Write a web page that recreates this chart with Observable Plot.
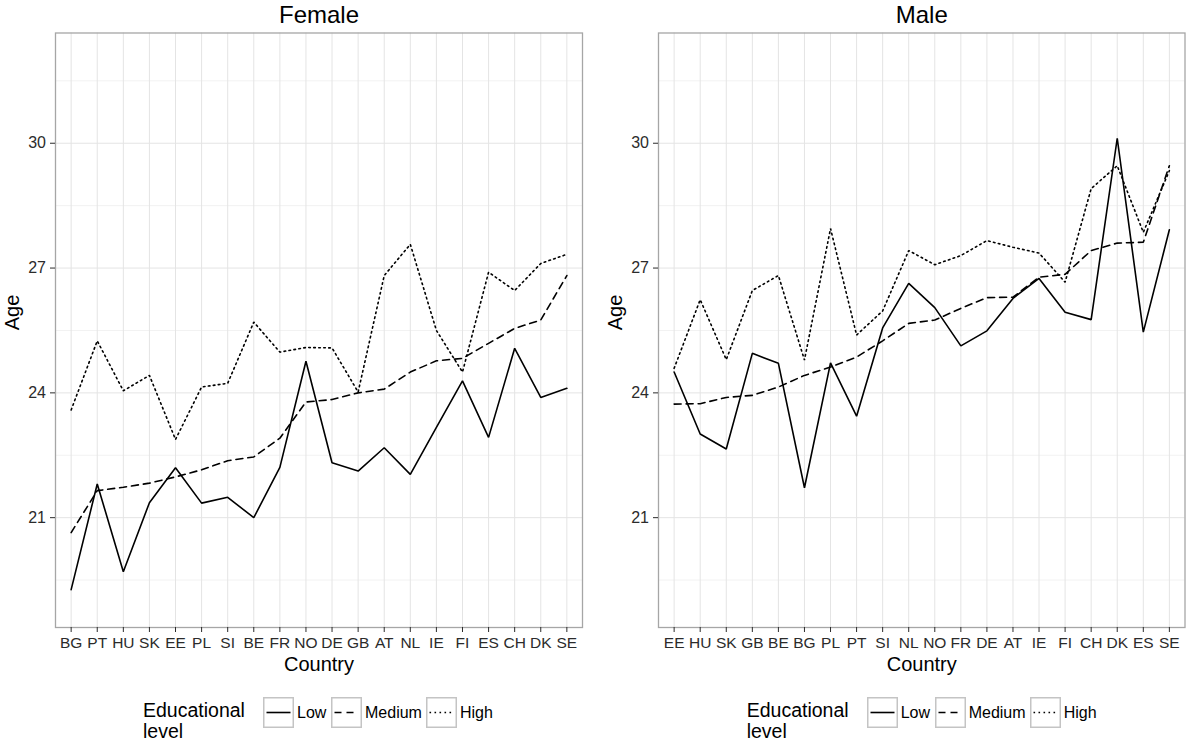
<!DOCTYPE html>
<html><head><meta charset="utf-8">
<script src="https://cdn.jsdelivr.net/npm/d3@7"></script>
<script src="https://cdn.jsdelivr.net/npm/@observablehq/plot@0.6"></script>
<style>
html,body{margin:0;padding:0;background:#fff;}
#chart{position:relative;width:1186px;height:742px;font-family:"Liberation Sans",Arial,Helvetica,sans-serif;overflow:hidden;background:#fff}
.panel{position:absolute;top:0}
.legend-title{position:absolute;font-size:19.5px;line-height:17px;height:17px;color:#000;white-space:nowrap}
.key{position:absolute}
.key-label{position:absolute;font-size:16px;line-height:16px;color:#000;white-space:nowrap}
</style></head><body><div id="chart"></div>
<script>
// ---- data ----
const levels = ["Low", "Medium", "High"];
const legendTitle = ["Educational", "level"];
const yTicks = [21, 24, 27, 30];
const yMinorTicks = [19.5, 22.5, 25.5, 28.5, 31.5];

const femaleCountries = ["BG","PT","HU","SK","EE","PL","SI","BE","FR","NO","DE","GB","AT","NL","IE","FI","ES","CH","DK","SE"];
const femaleLow    = [19.27,21.81,19.70,21.36,22.20,21.35,21.49,21.00,22.21,24.76,22.32,22.12,22.68,22.04,23.17,24.29,22.93,25.07,23.89,24.11];
const femaleMedium = [20.64,21.65,21.73,21.83,21.98,22.15,22.37,22.46,22.91,23.78,23.84,24.00,24.09,24.50,24.77,24.83,25.19,25.55,25.75,26.82];
const femaleHigh   = [23.59,25.25,24.05,24.42,22.88,24.14,24.23,25.70,24.98,25.09,25.08,24.02,26.82,27.57,25.50,24.50,26.90,26.46,27.11,27.33];

const maleCountries = ["EE","HU","SK","GB","BE","BG","PL","PT","SI","NL","NO","FR","DE","AT","IE","FI","CH","DK","ES","SE"];
const maleLow    = [24.50,23.01,22.65,24.95,24.71,21.72,24.72,23.44,25.56,26.63,26.05,25.13,25.49,26.27,26.75,25.94,25.76,30.12,25.46,27.92];
const maleMedium = [23.73,23.74,23.89,23.94,24.14,24.42,24.62,24.86,25.25,25.67,25.75,26.03,26.29,26.30,26.78,26.85,27.42,27.60,27.62,29.46];
const maleHigh   = [24.59,26.24,24.80,26.46,26.82,24.79,27.95,25.39,25.97,27.42,27.08,27.30,27.66,27.50,27.36,26.66,28.91,29.46,27.86,29.34];

// ---- styles ----
const yDomain = [18.36, 32.65];
const dashes = {Low: null, Medium: "7,5", High: "1.6,3.4"};
const FONT = "Liberation Sans, Arial, Helvetica, sans-serif";

function panel(title, countries, low, medium, high, width, marginRight) {
  const rows = vals => countries.map((c, i) => ({country: c, age: vals[i]}));
  const lineOpts = (lvl) => {
    const o = {x: "country", y: "age", stroke: "#000", strokeWidth: 1.6, strokeLinejoin: "miter"};
    if (dashes[lvl]) o.strokeDasharray = dashes[lvl];
    return o;
  };
  return Plot.plot({
    width, height: 680,
    marginLeft: 55, marginRight, marginTop: 32.5, marginBottom: 53,
    style: {fontFamily: FONT, background: "transparent", overflow: "visible"},
    x: {type: "point", domain: countries, padding: 0.6, round: false},
    y: {domain: yDomain},
    marks: [
      Plot.gridY(yMinorTicks, {stroke: "#f2f2f2", strokeOpacity: 1}),
      Plot.gridY(yTicks, {stroke: "#e4e4e4", strokeOpacity: 1}),
      Plot.gridX(countries, {stroke: "#e4e4e4", strokeOpacity: 1}),
      Plot.line(rows(low), lineOpts("Low")),
      Plot.line(rows(medium), lineOpts("Medium")),
      Plot.line(rows(high), lineOpts("High")),
      Plot.frame({stroke: "#a6a6a6", strokeWidth: 1.3}),
      Plot.axisX({tickSize: 5, tickPadding: 4, fontSize: 15.5, label: null, color: "#2b2b2b"}),
      Plot.axisY(yTicks, {tickSize: 5, tickPadding: 4.5, fontSize: 16, label: null, color: "#2b2b2b"}),
      Plot.text([title], {text: d => d, frameAnchor: "top", lineAnchor: "middle", dy: -17.5, fontSize: 24, fill: "#000"}),
      Plot.text(["Age"], {text: d => d, frameAnchor: "left", lineAnchor: "middle", dx: -43, rotate: -90, fontSize: 20, fill: "#000"}),
      Plot.text(["Country"], {text: d => d, frameAnchor: "bottom", lineAnchor: "middle", dy: 37, fontSize: 20, fill: "#000"})
    ]
  });
}

const chart = document.getElementById("chart");

function place(node, left) {
  node.classList.add("panel");
  node.style.left = left + "px";
  chart.appendChild(node);
}
place(panel("Female", femaleCountries, femaleLow, femaleMedium, femaleHigh, 593, 11), 0);
place(panel("Male", maleCountries, maleLow, maleMedium, maleHigh, 583, 1.5), 603);

// ---- legends ----
function legend(base) {
  legendTitle.forEach((line, i) => {
    const t = document.createElement("div");
    t.className = "legend-title";
    t.style.left = (base + 143) + "px";
    t.style.top = (702 + i * 21) + "px";
    t.textContent = line;
    chart.appendChild(t);
  });
  const boxX = [263, 331, 426];
  levels.forEach((lvl, i) => {
    const ns = "http://www.w3.org/2000/svg";
    const svg = document.createElementNS(ns, "svg");
    svg.setAttribute("width", 31); svg.setAttribute("height", 31);
    svg.setAttribute("class", "key");
    svg.style.left = (base + boxX[i]) + "px";
    svg.style.top = "697px";
    const r = document.createElementNS(ns, "rect");
    r.setAttribute("x", 0.75); r.setAttribute("y", 0.75);
    r.setAttribute("width", 29.5); r.setAttribute("height", 29.5);
    r.setAttribute("fill", "#fff"); r.setAttribute("stroke", "#c4c4c4"); r.setAttribute("stroke-width", 1.5);
    svg.appendChild(r);
    const l = document.createElementNS(ns, "line");
    l.setAttribute("x1", 3.5); l.setAttribute("x2", 27.5);
    l.setAttribute("y1", 15.5); l.setAttribute("y2", 15.5);
    l.setAttribute("stroke", "#000"); l.setAttribute("stroke-width", 1.6);
    if (dashes[lvl]) l.setAttribute("stroke-dasharray", dashes[lvl]);
    svg.appendChild(l);
    chart.appendChild(svg);
    const lab = document.createElement("div");
    lab.className = "key-label";
    lab.textContent = lvl;
    lab.style.left = (base + boxX[i] + 34) + "px";
    lab.style.top = "705px";
    chart.appendChild(lab);
  });
}
legend(0);
legend(603.7);
</script>
</body></html>
